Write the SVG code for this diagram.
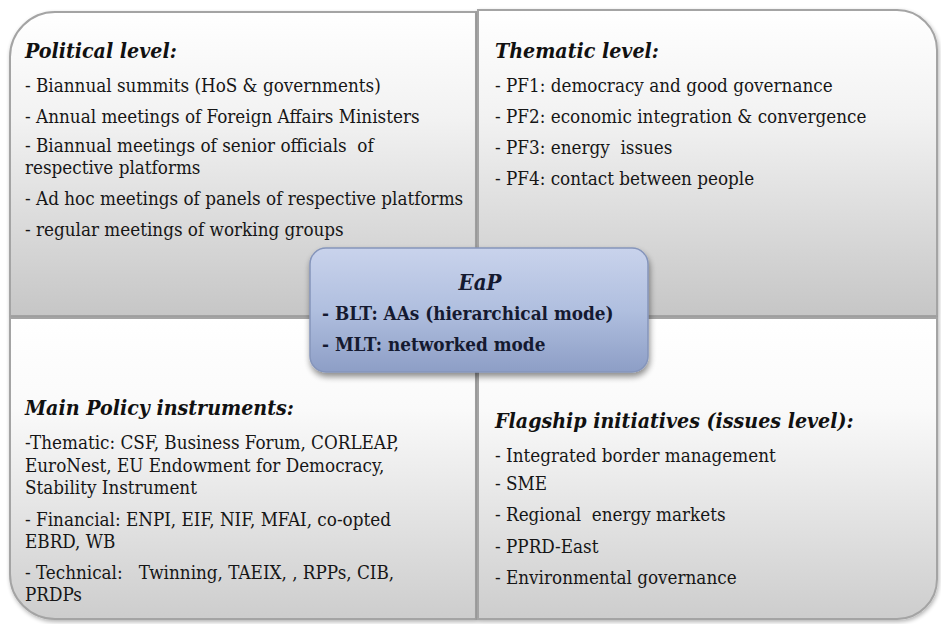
<svg xmlns="http://www.w3.org/2000/svg" width="941" height="624" viewBox="0 0 941 624">
<defs>
<style>
text{font-family:'DejaVu Serif Condensed','DejaVu Serif',serif;font-stretch:condensed;white-space:pre}
.t{font-size:18.7px;fill:#161616}
.h{font-size:21.2px;font-weight:bold;font-style:italic;fill:#111}
.c{font-size:18.8px;font-weight:bold;fill:#151a30}
.q{stroke:#a4a4a4;stroke-width:2}
</style>
<linearGradient id="gTop" x1="0" y1="0" x2="0" y2="1">
<stop offset="0" stop-color="#ffffff"/>
<stop offset="0.35" stop-color="#f2f2f2"/>
<stop offset="1" stop-color="#c6c6c6"/>
</linearGradient>
<linearGradient id="gBot" x1="0" y1="0" x2="0" y2="1">
<stop offset="0" stop-color="#ffffff"/>
<stop offset="0.3" stop-color="#fafafa"/>
<stop offset="1" stop-color="#cdcdcd"/>
</linearGradient>
<linearGradient id="gC" x1="0" y1="0" x2="0" y2="1">
<stop offset="0" stop-color="#c9d3ec"/>
<stop offset="0.5" stop-color="#b0bfdf"/>
<stop offset="1" stop-color="#8d9ec6"/>
</linearGradient>
<filter id="sh" x="-10%" y="-10%" width="130%" height="140%">
<feGaussianBlur in="SourceAlpha" stdDeviation="3"/>
<feOffset dx="1" dy="4" result="b"/>
<feComponentTransfer><feFuncA type="linear" slope="0.45"/></feComponentTransfer>
<feMerge><feMergeNode/><feMergeNode in="SourceGraphic"/></feMerge>
</filter>
<filter id="qs" x="-5%" y="-5%" width="110%" height="110%">
<feGaussianBlur in="SourceAlpha" stdDeviation="2"/>
<feOffset dx="1" dy="2" result="b"/>
<feComponentTransfer><feFuncA type="linear" slope="0.3"/></feComponentTransfer>
<feMerge><feMergeNode/><feMergeNode in="SourceGraphic"/></feMerge>
</filter>
</defs>
<rect width="941" height="624" fill="#ffffff"/>

<g id="political-level">
<path class="q" filter="url(#qs)" d="M10 316 V57 A45 45 0 0 1 55 12 H476 V316 Z" fill="url(#gTop)"/>
<text class="h" x="25" y="58">Political level:</text>
<text class="t" x="25" y="92">- Biannual summits (HoS &amp; governments)</text>
<text class="t" x="25" y="123">- Annual meetings of Foreign Affairs Ministers</text>
<text class="t" x="25" y="152">- Biannual meetings of senior officials  of</text>
<text class="t" x="25" y="174">respective platforms</text>
<text class="t" x="25" y="205">- Ad hoc meetings of panels of respective platforms</text>
<text class="t" x="25" y="236">- regular meetings of working groups</text>
</g>

<g id="thematic-level">
<path class="q" filter="url(#qs)" d="M478 10 H897 A40 40 0 0 1 937 50 V316 H478 Z" fill="url(#gTop)"/>
<text class="h" x="495" y="58">Thematic level:</text>
<text class="t" x="495" y="92">- PF1: democracy and good governance</text>
<text class="t" x="495" y="123">- PF2: economic integration &amp; convergence</text>
<text class="t" x="495" y="154">- PF3: energy  issues</text>
<text class="t" x="495" y="185">- PF4: contact between people</text>
</g>

<g id="policy-instruments">
<path class="q" filter="url(#qs)" d="M10 318 H476 V619 H55 A45 45 0 0 1 10 574 Z" fill="url(#gBot)"/>
<text class="h" x="25" y="415">Main Policy instruments:</text>
<text class="t" x="25" y="449">-Thematic: CSF, Business Forum, CORLEAP,</text>
<text class="t" x="25" y="472">EuroNest, EU Endowment for Democracy,</text>
<text class="t" x="25" y="494">Stability Instrument</text>
<text class="t" x="25" y="526">- Financial: ENPI, EIF, NIF, MFAI, co-opted</text>
<text class="t" x="25" y="548">EBRD, WB</text>
<text class="t" x="25" y="579">- Technical:   Twinning, TAEIX, , RPPs, CIB,</text>
<text class="t" x="25" y="601">PRDPs</text>
</g>

<g id="flagship-initiatives">
<path class="q" filter="url(#qs)" d="M478 318 H937 V579 A40 40 0 0 1 897 619 H478 Z" fill="url(#gBot)"/>
<text class="h" x="495" y="428">Flagship initiatives (issues level):</text>
<text class="t" x="495" y="462">- Integrated border management</text>
<text class="t" x="495" y="490">- SME</text>
<text class="t" x="495" y="521">- Regional  energy markets</text>
<text class="t" x="495" y="553">- PPRD-East</text>
<text class="t" x="495" y="584">- Environmental governance</text>
</g>

<g id="connectors"/>

<g id="eap">
<rect x="310" y="248" width="338" height="124" rx="16" fill="url(#gC)" stroke="#8595bb" stroke-width="1.5" filter="url(#sh)"/>
<text class="h" x="480" y="290" text-anchor="middle" style="font-size:22px;fill:#151a30">EaP</text>
<text class="c" x="322" y="320">- BLT: AAs (hierarchical mode)</text>
<text class="c" x="322" y="351">- MLT: networked mode</text>
</g>
</svg>
